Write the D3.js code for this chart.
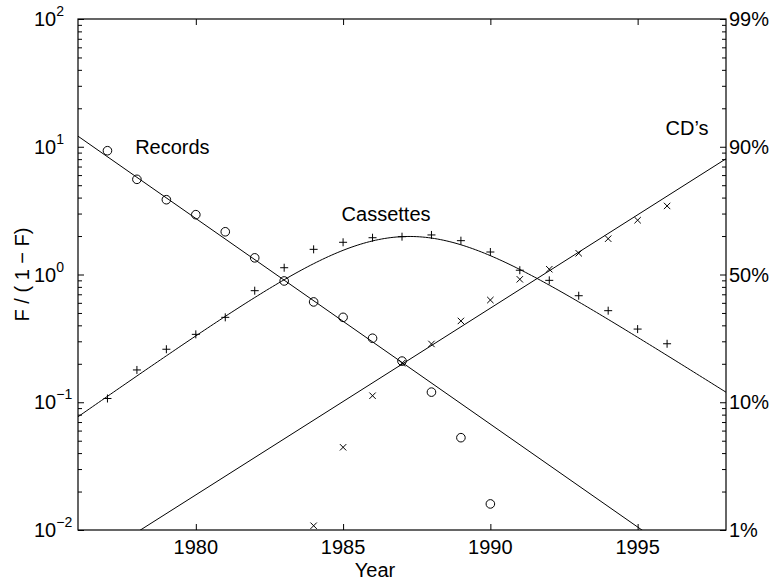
<!DOCTYPE html>
<html>
<head>
<meta charset="utf-8">
<script src="https://cdn.jsdelivr.net/npm/d3@7"></script>
<style>
  body { margin: 0; background: #fff; }
  text { font-family: "Liberation Sans", Arial, Helvetica, sans-serif; fill: #000; }
</style>
</head>
<body>
<svg id="chart" width="772" height="580"></svg>
<script>
// Market share ratio F/(1-F) per year for each format
const recordYears = [1977, 1978, 1979, 1980, 1981, 1982, 1983, 1984, 1985, 1986, 1987, 1988, 1989, 1990];
const recordValues = [9.31, 5.56, 3.85, 2.94, 2.16, 1.35, 0.89, 0.61, 0.462, 0.317, 0.210, 0.120, 0.0528, 0.0160];

const cassetteYears = [1977, 1978, 1979, 1980, 1981, 1982, 1983, 1984, 1985, 1986, 1987, 1988, 1989, 1990, 1991, 1992, 1993, 1994, 1995, 1996];
const cassetteValues = [0.107, 0.179, 0.260, 0.340, 0.462, 0.747, 1.13, 1.574, 1.787, 1.94, 1.977, 2.04, 1.84, 1.50, 1.08, 0.90, 0.682, 0.521, 0.374, 0.287];

const cdYears = [1984, 1985, 1986, 1987, 1988, 1989, 1990, 1991, 1992, 1993, 1994, 1995, 1996];
const cdValues = [0.0108, 0.0444, 0.1125, 0.202, 0.286, 0.433, 0.631, 0.917, 1.10, 1.466, 1.906, 2.66, 3.44];

// Fitted logistic trends: F/(1-F) at the two ends of the year range
const trendYears = [1976, 1998];
const recordTrend = [12.1, 0.00347];
const cdTrend = [0.0049, 8.05];

// Axis ticks and labels
const xTicks = [1980, 1985, 1990, 1995];
const yExponents = [-2, -1, 0, 1, 2];
const shareLabels = ["1%", "10%", "50%", "90%", "99%"];
const seriesLabels = ["Records", "Cassettes", "CD\u2019s"];
const seriesLabelPos = [[1977.94, 8.77], [1984.95, 2.62], [1995.95, 12.36]];

const svg = d3.select("#chart");
const plotLeft = 78, plotRight = 726, plotTop = 19, plotBottom = 530;

const x = d3.scaleLinear().domain([1976, 1998]).range([plotLeft, plotRight]);
const y = d3.scaleLog().domain([0.01, 100]).range([plotBottom, plotTop]);

const majorY = yExponents.map(e => Math.pow(10, e));
const minorY = [];
yExponents.slice(0, -1).forEach(e => {
  for (let k = 2; k <= 9; k++) minorY.push(k * Math.pow(10, e));
});

// Ticks (pointing inward on all four sides)
function tickAxis(axis, tx, ty, values, size) {
  const g = svg.append("g").attr("transform", `translate(${tx},${ty})`)
    .call(axis.tickValues(values).tickSizeInner(-size).tickSizeOuter(0).tickFormat(""));
  g.select(".domain").remove();
  g.selectAll("line").attr("stroke", "#000").attr("stroke-width", 1);
  g.selectAll("text").remove();
  return g;
}
tickAxis(d3.axisBottom(x), 0, plotBottom, xTicks, 6);
tickAxis(d3.axisTop(x), 0, plotTop, xTicks, 6);
tickAxis(d3.axisLeft(y), plotLeft, 0, majorY, 6);
tickAxis(d3.axisLeft(y), plotLeft, 0, minorY, 4);
tickAxis(d3.axisRight(y), plotRight, 0, majorY, 6);
tickAxis(d3.axisRight(y), plotRight, 0, minorY, 4);

// Frame
svg.append("rect")
  .attr("x", plotLeft).attr("y", plotTop)
  .attr("width", plotRight - plotLeft).attr("height", plotBottom - plotTop)
  .attr("fill", "none").attr("stroke", "#000").attr("stroke-width", 1.2);

// Tick labels
svg.append("g").selectAll("text").data(xTicks).join("text")
  .attr("x", d => x(d)).attr("y", 554)
  .attr("text-anchor", "middle").attr("font-size", 20)
  .text(d => d);

const yl = svg.append("g").selectAll("text").data(yExponents).join("text")
  .attr("x", 34).attr("y", d => y(Math.pow(10, d)) + 7)
  .attr("font-size", 20);
yl.append("tspan").text("10");
yl.append("tspan").attr("font-size", 14).attr("dy", -10)
  .text(d => (d < 0 ? "\u2212" + (-d) : String(d)));

svg.append("g").selectAll("text").data(yExponents).join("text")
  .attr("x", 729).attr("y", d => y(Math.pow(10, d)) + 7)
  .attr("font-size", 20)
  .text((d, i) => shareLabels[i]);

// Axis titles
svg.append("text")
  .attr("x", 375).attr("y", 577)
  .attr("text-anchor", "middle").attr("font-size", 20)
  .text("Year");
svg.append("text")
  .attr("transform", `translate(28.5,${(plotTop + plotBottom) / 2}) rotate(-90)`)
  .attr("text-anchor", "middle").attr("font-size", 20)
  .text("F / ( 1 \u2212 F)");

// Trend curves, clipped to the plot frame
svg.append("clipPath").attr("id", "plot-clip")
  .append("rect").attr("x", plotLeft).attr("y", plotTop)
  .attr("width", plotRight - plotLeft).attr("height", plotBottom - plotTop);
const plot = svg.append("g").attr("clip-path", "url(#plot-clip)");

const line = d3.line().x(d => x(d[0])).y(d => y(d[1]));
const logTrend = (ends, t) => {
  const u = (t - trendYears[0]) / (trendYears[1] - trendYears[0]);
  return Math.exp(Math.log(ends[0]) + u * (Math.log(ends[1]) - Math.log(ends[0])));
};
const share = r => r / (1 + r);

plot.append("path").datum(trendYears.map((t, i) => [t, recordTrend[i]]))
  .attr("d", line).attr("fill", "none").attr("stroke", "#000").attr("stroke-width", 1);
plot.append("path").datum(trendYears.map((t, i) => [t, cdTrend[i]]))
  .attr("d", line).attr("fill", "none").attr("stroke", "#000").attr("stroke-width", 1);

// Cassettes hold whatever share the records and CD trends leave
const cassetteTrend = d3.range(trendYears[0], trendYears[1] + 0.001, 0.1).map(t => {
  const f = 1 - share(logTrend(recordTrend, t)) - share(logTrend(cdTrend, t));
  return [t, f / (1 - f)];
});
plot.append("path").datum(cassetteTrend)
  .attr("d", line).attr("fill", "none").attr("stroke", "#000").attr("stroke-width", 1);

// Markers
const markers = svg.append("g").attr("fill", "none").attr("stroke", "#000").attr("stroke-width", 1);
markers.selectAll("circle").data(recordYears.map((t, i) => [t, recordValues[i]])).join("circle")
  .attr("cx", d => x(d[0])).attr("cy", d => y(d[1])).attr("r", 4.3);
markers.selectAll("path.plus").data(cassetteYears.map((t, i) => [t, cassetteValues[i]])).join("path")
  .attr("class", "plus")
  .attr("d", d => {
    const px = x(d[0]), py = y(d[1]), s = 4;
    return `M${px - s},${py}H${px + s}M${px},${py - s}V${py + s}`;
  });
markers.selectAll("path.cross").data(cdYears.map((t, i) => [t, cdValues[i]])).join("path")
  .attr("class", "cross")
  .attr("d", d => {
    const px = x(d[0]), py = y(d[1]), s = 3.2;
    return `M${px - s},${py - s}L${px + s},${py + s}M${px - s},${py + s}L${px + s},${py - s}`;
  });

// Series names
svg.append("g").selectAll("text").data(seriesLabels).join("text")
  .attr("x", (d, i) => x(seriesLabelPos[i][0]))
  .attr("y", (d, i) => y(seriesLabelPos[i][1]))
  .attr("font-size", 20)
  .text(d => d);
</script>
</body>
</html>
